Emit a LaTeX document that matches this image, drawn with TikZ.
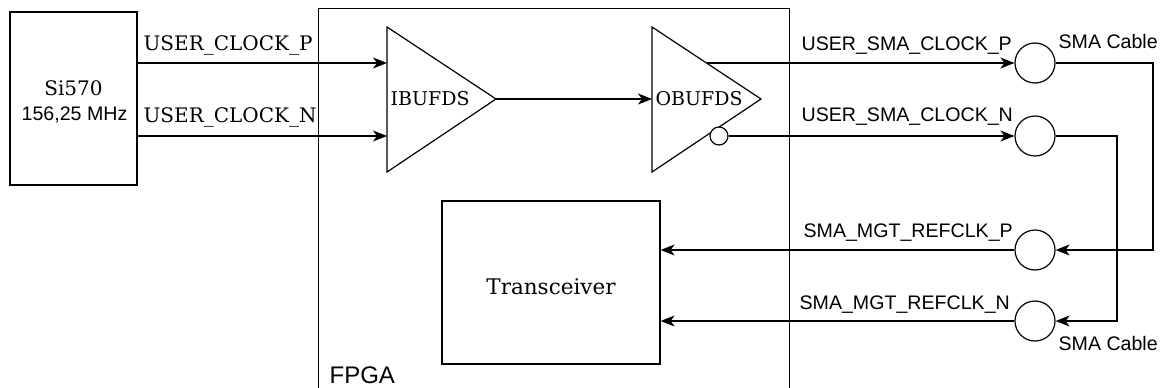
\documentclass[tikz,border=0pt]{standalone}
\usepackage{fontspec}
\setmainfont{DejaVu Serif}
\newfontfamily\sansf{Liberation Sans}
\usetikzlibrary{arrows.meta}
\begin{document}
\begin{tikzpicture}[x=1pt,y=-1pt,line width=1.2pt,
  arr/.style={-{Stealth[length=14pt,width=11pt,inset=4pt]}},
  serlbl/.style={font=\fontsize{20}{23}\selectfont, inner sep=0},
  sanlbl/.style={font=\sansf\fontsize{19.6}{22}\selectfont, inner sep=0},
  conn/.style={circle,draw,minimum size=40pt,inner sep=0},
  box/.style={draw,inner sep=0}]
\useasboundingbox (0,0) rectangle (1162,388);
% Si570
\node[box,minimum width=127pt,minimum height=173pt] (si) at (73.5,98.5) {};
\node[serlbl] (sit) at (73.5,88) {Si570};
\node[sanlbl] (sif) at (74.5,115) {156,25 MHz};
% FPGA
\node[box,minimum width=471pt,minimum height=392pt,anchor=north west] (fpga) at (318,8) {};
\node[font=\sansf\fontsize{24}{27}\selectfont,inner sep=0,anchor=west] (fpgat) at (329,375) {FPGA};
% IBUFDS
\coordinate (ibp) at (387,63);
\coordinate (ibn) at (387,136);
\coordinate (ibo) at (496,99);
\draw (387,27) -- (496,99) -- (387,172) -- cycle;
\node[serlbl,font=\fontsize{19}{22}\selectfont,anchor=west] (ibt) at (390,99) {IBUFDS};
% OBUFDS
\coordinate (obi) at (652,99);
\draw (652,27) -- (761,99) -- (652,172) -- cycle;
\node[serlbl,font=\fontsize{19}{22}\selectfont,anchor=west] (obt) at (655,99) {OBUFDS};
\node[circle,draw,fill=white,minimum size=18pt,inner sep=0] (bub) at (719,136) {};
\coordinate (obp) at (706.5,63);
% Transceiver
\node[box,minimum width=218pt,minimum height=163pt] (tr) at (551,282.5) {};
\node[serlbl,font=\fontsize{21.5}{24}\selectfont] (trt) at (551,287) {Transceiver};
% connectors
\node[conn] (c1) at (1035,63) {};
\node[conn] (c2) at (1035,136) {};
\node[conn] (c3) at (1035,250) {};
\node[conn] (c4) at (1035,321) {};
% wires
\draw[arr] (si.east |- ibp) -- (ibp);
\draw[arr] (si.east |- ibn) -- (ibn);
\draw[arr] (ibo) -- (obi);
\draw[arr] (obp) -- (c1.west);
\draw[arr] (bub.east) -- (c2.west);
\draw[arr] (c1.east) -- (1153,63) -- (1153,250) -- (c3.east);
\draw[arr] (c2.east) -- (1117,136) -- (1117,321) -- (c4.east);
\draw[arr] (c3.west) -- (tr.east |- c3);
\draw[arr] (c4.west) -- (tr.east |- c4);
% labels
\node[serlbl,anchor=west] (l1) at (143,45) {USER\_CLOCK\_P};
\node[serlbl,anchor=west] (l2) at (143,117) {USER\_CLOCK\_N};
\node[sanlbl,anchor=west] (l3) at (801,46) {USER\_SMA\_CLOCK\_P};
\node[sanlbl,anchor=west] (l4) at (801,117) {USER\_SMA\_CLOCK\_N};
\node[sanlbl,anchor=west] (l5) at (803,233) {SMA\_MGT\_REFCLK\_P};
\node[sanlbl,anchor=west] (l6) at (799,305) {SMA\_MGT\_REFCLK\_N};
\node[sanlbl,anchor=west] (l7) at (1058,41) {SMA Cable};
\node[sanlbl,anchor=west] (l8) at (1058,343) {SMA Cable};
\end{tikzpicture}
\end{document}
